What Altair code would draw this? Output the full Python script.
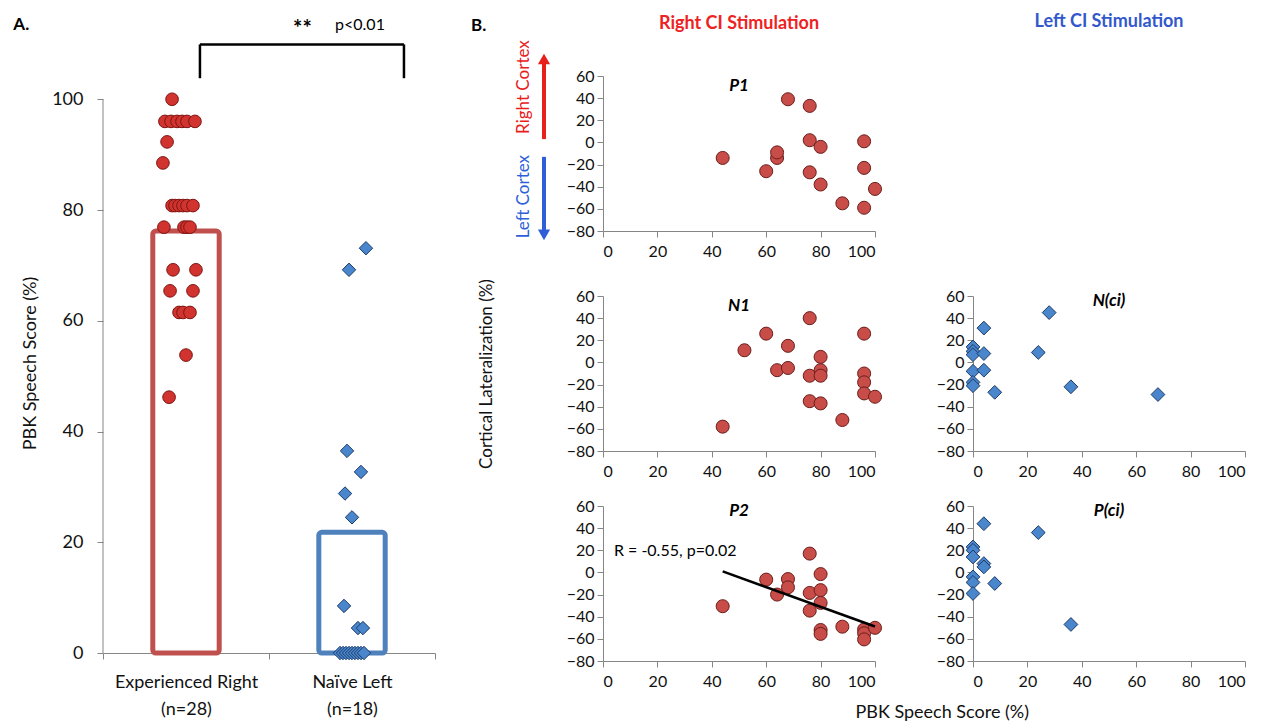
import json
import altair as alt
import pandas as pd

FONT = "Lato"

# ---------------- Panel A data ----------------
GROUPS = ["Experienced Right", "Naïve Left"]
GROUP_N = ["(n=28)", "(n=18)"]
GROUP_MEAN = [76.2, 21.8]
EXP_SCORES = [100, 96, 96, 96, 96, 96, 96, 92.3, 88.5,
              80.8, 80.8, 80.8, 80.8, 80.8, 80.8,
              76.9, 76.9, 76.9, 76.9, 69.2, 69.2, 65.4, 65.4,
              61.5, 61.5, 61.5, 53.8, 46.2]
EXP_JITTER = [-0.084, -0.127, -0.090, -0.054, -0.024, 0.006, 0.054, -0.114, -0.139,
              -0.084, -0.066, -0.042, -0.018, 0.006, 0.042,
              -0.133, -0.012, 0.006, 0.024, -0.078, 0.060, -0.096, 0.042,
              -0.042, -0.018, 0.024, 0.0, -0.102]
NAIVE_SCORES = [73.1, 69.2, 36.5, 32.7, 28.8, 24.5, 8.5, 4.5, 4.5,
                0, 0, 0, 0, 0, 0, 0, 0, 0]
NAIVE_JITTER = [0.084, -0.018, -0.030, 0.054, -0.042, 0.0, -0.048, 0.036, 0.066,
                -0.072, -0.054, -0.036, -0.018, 0.0, 0.018, 0.036, 0.054, 0.072]
A_TICKS = [0, 20, 40, 60, 80, 100]
A_TITLE = "PBK Speech Score (%)"
SIG_STARS = "**"
SIG_P = "p<0.01"
SIG_X = [1.145, 1.398]
BRACKET_X = [0.584, 1.813]
BRACKET_Y = [103.8, 109.9]

# ---------------- Panel B data ----------------
P1_X = [44, 60, 64, 64, 68, 76, 76, 76, 80, 80, 88, 96, 96, 96, 100]
P1_Y = [-14, -26, -14, -9, 39, 33, 2, -27, -4, -38, -55, 1, -23, -59, -42]
N1_X = [44, 52, 60, 64, 68, 68, 76, 76, 76, 80, 80, 80, 80, 88, 96, 96, 96, 96, 100]
N1_Y = [-58, 11, 26, -7, 15, -5, 40, -12, -35, 5, -7, -12, -37, -52, 26, -10, -18, -28, -31]
P2_X = [44, 60, 64, 68, 68, 76, 76, 76, 80, 80, 80, 80, 80, 88, 96, 96, 96, 100]
P2_Y = [-30.5, -6.5, -20, -6, -13.5, 17, -18.5, -34.5, -1.5, -16, -27.5, -52, -55.5,
        -49, -51.5, -55, -60.5, -50]
NCI_X = [0, 0, 0, 0, 0, 0, 4, 4, 4, 8, 24, 28, 36, 68]
NCI_Y = [14, 10, 7, -8, -18, -21, 31, 8, -7, -27, 9, 45, -22, -29]
PCI_X = [0, 0, 0, 0, 0, 0, 4, 4, 4, 8, 24, 36]
PCI_Y = [23, 20, 14, -4, -9, -19, 44, 8, 5, -10, 36, -47]
B_X_TICKS = [0, 20, 40, 60, 80, 100]
B_Y_TICKS = [-80, -60, -40, -20, 0, 20, 40, 60]
FIT_TEXT = "R = -0.55, p=0.02"
FIT_TEXT_POS = [4, 19]
CORTEX_LABELS = ["Right Cortex", "Left Cortex"]
CORTEX_LABEL_Y = [50, -49]
ARROW_BASE = [3, -13]
ARROW_HEAD = [75.3, -83.5]

# ---------------- styles ----------------
AXIS = "#868686"
TXT = "#111111"
RED_A, RED_A_S = "#d1332f", "#7d1512"
RED_B, RED_B_S = "#c84c47", "#6a1f1c"
BLUE, BLUE_S = "#4a86cc", "#1c3b68"
BAR_RED, BAR_BLUE = "#c0504d", "#4f81bd"
HEAD_RED, HEAD_BLUE = "#ee2222", "#3358cc"
ARROW_RED, ARROW_BLUE = "#e8201c", "#2f5fd8"

# ================= Panel A =================
WA, HA = 332, 577
A_TOP = 104.2
xs_a = alt.Scale(domain=[0, len(GROUPS)], nice=False, zero=False)
ys_a = alt.Scale(domain=[0, A_TOP], nice=False)

centers = [i + 0.5 for i in range(len(GROUPS))]
parts = []
for c, g, n in zip(centers, GROUPS, GROUP_N):
    parts.append(f"datum.value == {c} ? [{json.dumps(g)}, {json.dumps(n)}]")
label_expr = " : ".join(parts) + " : ''"

x_axis_a = alt.Axis(values=sorted(set([0, 1, 2] + centers)), labelExpr=label_expr,
                    tickOpacity={"condition": {"test": "datum.value % 1 != 0", "value": 0}, "value": 1},
                    title=None, grid=False, labelFontSize=18, labelPadding=14, tickSize=6,
                    labelLineHeight=27, labelColor=TXT, labelOverlap=False)
y_axis_a = alt.Axis(values=A_TICKS, domain=False, grid=False, title=A_TITLE, titleFontSize=18,
                    titleFontWeight="normal", labelFontSize=18, tickSize=6, labelPadding=14,
                    titlePadding=12, titleY=287, labelColor=TXT, titleColor=TXT, labelOverlap=False)

pts = pd.DataFrame({
    "group": [GROUPS[0]] * len(EXP_SCORES) + [GROUPS[1]] * len(NAIVE_SCORES),
    "score": EXP_SCORES + NAIVE_SCORES,
    "jitter": EXP_JITTER + NAIVE_JITTER,
})
pts["pos"] = pts["group"].map(dict(zip(GROUPS, centers))) + pts["jitter"]

bars_df = pd.DataFrame({"group": GROUPS, "mean": GROUP_MEAN, "center": centers})
BAR_HALF = 0.2
bars = alt.Chart(bars_df).transform_calculate(
    x1=f"datum.center - {BAR_HALF}", x2=f"datum.center + {BAR_HALF}"
).mark_bar(fill="white", strokeWidth=5, cornerRadius=3).encode(
    x=alt.X("x1:Q", scale=xs_a, axis=x_axis_a),
    x2="x2:Q",
    y=alt.Y("mean:Q", scale=ys_a, axis=y_axis_a),
    y2=alt.datum(0),
    stroke=alt.Stroke("group:N", scale=alt.Scale(domain=GROUPS, range=[BAR_RED, BAR_BLUE]), legend=None),
)

yline = alt.Chart(pd.DataFrame({"a": [A_TICKS[0]], "b": [A_TICKS[-1]]})).mark_rule(color=AXIS).encode(
    x=alt.datum(0), y=alt.Y("a:Q", axis=y_axis_a), y2="b:Q")

exp_pts = alt.Chart(pts).transform_filter(alt.datum.group == GROUPS[0]).mark_point(
    shape="circle", filled=True, size=160, fill=RED_A, stroke=RED_A_S, strokeWidth=1, opacity=1
).encode(x=alt.X("pos:Q", axis=x_axis_a), y=alt.Y("score:Q", axis=y_axis_a))
naive_pts = alt.Chart(pts).transform_filter(alt.datum.group == GROUPS[1]).mark_point(
    shape="diamond", filled=True, size=180, fill=BLUE, stroke=BLUE_S, strokeWidth=1, opacity=1
).encode(x=alt.X("pos:Q", axis=x_axis_a), y=alt.Y("score:Q", axis=y_axis_a))

seg = pd.DataFrame({
    "x": [BRACKET_X[0], BRACKET_X[0], BRACKET_X[1]],
    "x2": [BRACKET_X[0], BRACKET_X[1], BRACKET_X[1]],
    "y": [BRACKET_Y[0], BRACKET_Y[1], BRACKET_Y[1]],
    "y2": [BRACKET_Y[1], BRACKET_Y[1], BRACKET_Y[0]],
})
bracket = alt.Chart(seg).mark_rule(color="black", strokeWidth=2.5).encode(
    x=alt.X("x:Q", axis=x_axis_a), x2="x2:Q", y=alt.Y("y:Q", axis=y_axis_a), y2="y2:Q")

a_lab = alt.Chart(pd.DataFrame({"t": ["A."], "x": [-0.54], "y": [113.5]})).mark_text(
    align="left", fontSize=17, fontWeight="bold", color="black").encode(
    x=alt.X("x:Q", axis=x_axis_a), y=alt.Y("y:Q", axis=y_axis_a), text="t:N")
stars = alt.Chart(pd.DataFrame({"t": [SIG_STARS], "x": [SIG_X[0]], "y": [112.6]})).mark_text(
    align="left", color="black", fontSize=22, fontWeight="bold").encode(
    x=alt.X("x:Q", axis=x_axis_a), y=alt.Y("y:Q", axis=y_axis_a), text="t:N")
pval = alt.Chart(pd.DataFrame({"t": [SIG_P], "x": [SIG_X[1]], "y": [113.5]})).mark_text(
    align="left", color="black", fontSize=16).encode(
    x=alt.X("x:Q", axis=x_axis_a), y=alt.Y("y:Q", axis=y_axis_a), text="t:N")

panelA = alt.layer(bars, yline, exp_pts, naive_pts, bracket, a_lab, stars, pval).properties(
    width=WA, height=HA)

# ================= Panel B =================
WB, HB = 272, 155
xs_b = alt.Scale(domain=[0, 100], nice=False)
ys_b = alt.Scale(domain=[-80, 60], nice=False)


def base_axes(ytitle=None):
    xa = alt.Axis(values=B_X_TICKS, title=None, grid=False, labelFontSize=16, tickSize=6,
                  labelPadding=6, labelColor=TXT, labelOverlap=False)
    kw = dict(values=B_Y_TICKS, grid=False, labelFontSize=16, tickSize=6, labelPadding=3,
              labelColor=TXT, labelOverlap=False)
    if ytitle:
        ya = alt.Axis(title=ytitle, titleFontSize=17, titleFontWeight="normal", titlePadding=71,
                      titleColor=TXT, **kw)
    else:
        ya = alt.Axis(title=None, **kw)
    return xa, ya


def scatter(xv, yv, kind, ytitle=None):
    df = pd.DataFrame({"x": xv, "y": yv})
    xa, ya = base_axes(ytitle)
    if kind == "circle":
        mk = dict(shape="circle", size=170, fill=RED_B, stroke=RED_B_S)
    else:
        mk = dict(shape="diamond", size=190, fill=BLUE, stroke=BLUE_S)
    ch = alt.Chart(df).mark_point(filled=True, strokeWidth=1, opacity=1, **mk).encode(
        x=alt.X("x:Q", scale=xs_b, axis=xa), y=alt.Y("y:Q", scale=ys_b, axis=ya))
    return df, ch, xa, ya


def ttl(text, offset, sub=None, color="black"):
    kw = dict(text=text, anchor="middle", offset=offset, font=FONT)
    if sub is not None:
        kw.update(subtitle=sub, color=color, fontSize=18, fontWeight="bold",
                  subtitleFont=FONT, subtitleFontSize=17, subtitleFontWeight="bold",
                  subtitleFontStyle="italic", subtitleColor="black", subtitlePadding=45)
    else:
        kw.update(color="black", fontSize=17, fontWeight="bold", fontStyle="italic")
    return alt.TitleParams(**kw)


# P1 with arrows
_, p1_pts, p1_xa, p1_ya = scatter(P1_X, P1_Y, "circle")
arrows = pd.DataFrame({"lab": CORTEX_LABELS, "y0": ARROW_BASE, "y1": ARROW_HEAD, "ly": CORTEX_LABEL_Y})
acol = alt.Scale(domain=CORTEX_LABELS, range=[ARROW_RED, ARROW_BLUE])
shafts = alt.Chart(arrows).mark_rule(strokeWidth=4).encode(
    x=alt.value(-59), y=alt.Y("y0:Q", axis=p1_ya), y2="y1:Q",
    color=alt.Color("lab:N", scale=acol, legend=None))
heads = alt.Chart(arrows).mark_point(filled=True, size=150, opacity=1).encode(
    x=alt.value(-59), y=alt.Y("y1:Q", axis=p1_ya), color=alt.Color("lab:N", scale=acol, legend=None),
    shape=alt.Shape("lab:N", scale=alt.Scale(domain=CORTEX_LABELS, range=["triangle-up", "triangle-down"]),
                    legend=None))
ctext = alt.Chart(arrows).mark_text(angle=270, fontSize=17, align="center", baseline="middle").encode(
    x=alt.value(-79), y=alt.Y("ly:Q", axis=p1_ya), text="lab:N",
    color=alt.Color("lab:N", scale=acol, legend=None))
b_lab = alt.Chart(pd.DataFrame({"t": ["B."], "y": [105.5]})).mark_text(
    align="left", fontSize=17, fontWeight="bold", color="black").encode(
    x=alt.value(-132), y=alt.Y("y:Q", axis=p1_ya), text="t:N")
p1 = alt.layer(p1_pts, shafts, heads, ctext, b_lab).properties(
    width=WB, height=HB, title=ttl("Right CI Stimulation", -77, "P1", HEAD_RED))

# blank top-right cell carrying the column heading
nci_df = pd.DataFrame({"x": NCI_X, "y": NCI_Y})
blank = alt.Chart(nci_df).mark_point(opacity=0).encode(
    x=alt.X("x:Q", scale=xs_b, axis=None), y=alt.Y("y:Q", scale=ys_b, axis=None)
).properties(width=WB, height=HB, title=ttl("Left CI Stimulation", -16, " ", HEAD_BLUE))

_, n1_pts, _, _ = scatter(N1_X, N1_Y, "circle", ytitle="Cortical Lateralization (%)")
n1 = n1_pts.properties(width=WB, height=HB, title=ttl("N1", -36))

_, nci_pts, _, _ = scatter(NCI_X, NCI_Y, "diamond")
nci = nci_pts.properties(width=WB, height=HB, title=ttl("N(ci)", -22))

p2_df, p2_pts, p2_xa, p2_ya = scatter(P2_X, P2_Y, "circle")
fit = alt.Chart(p2_df).transform_regression("x", "y").mark_line(color="black", strokeWidth=2.5).encode(
    x=alt.X("x:Q", axis=p2_xa), y=alt.Y("y:Q", axis=p2_ya))
fit_txt = alt.Chart(pd.DataFrame({"t": [FIT_TEXT], "x": [FIT_TEXT_POS[0]], "y": [FIT_TEXT_POS[1]]})).mark_text(
    align="left", fontSize=16, color="black").encode(
    x=alt.X("x:Q", axis=p2_xa), y=alt.Y("y:Q", axis=p2_ya), text="t:N")
p2 = alt.layer(p2_pts, fit, fit_txt).properties(width=WB, height=HB, title=ttl("P2", -22))

_, pci_pts, _, _ = scatter(PCI_X, PCI_Y, "diamond")
pci = pci_pts.properties(width=WB, height=HB, title=ttl("P(ci)", -22))

panelB = alt.concat(p1, blank, n1, nci, p2, pci, columns=2, align="each",
                    spacing={"row": 19, "column": 52},
                    title=alt.TitleParams("PBK Speech Score (%)", orient="bottom", anchor="middle",
                                          fontSize=18, fontWeight="normal", offset=15, dx=84,
                                          color=TXT, font=FONT))

chart = alt.hconcat(panelA, panelB, spacing=35).configure(font=FONT).configure_view(
    stroke=None
).configure_axis(
    labelFont=FONT, titleFont=FONT, domainColor=AXIS, tickColor=AXIS, grid=False
).configure_title(font=FONT)

chart.save("out.html", embed_options={"renderer": "svg", "actions": False})
